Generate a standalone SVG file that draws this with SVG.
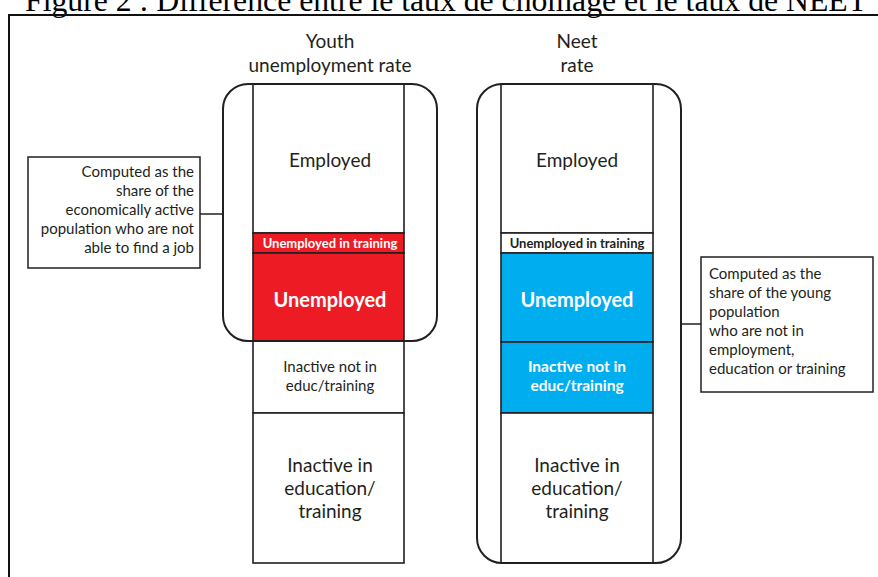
<svg xmlns="http://www.w3.org/2000/svg" width="878" height="577" viewBox="0 0 878 577">
  <style>
    .title { font-family: "Liberation Serif", "Times New Roman", serif; font-size: 32px; fill: #000; }
    .lbl { font-family: Lato, "Noto Sans", sans-serif; fill: #231f20; text-anchor: middle; }
    .head { font-size: 19px; }
    .big { font-size: 19px; }
    .bigb { font-size: 20px; font-weight: bold; }
    .mid { font-size: 15px; }
    .midb { font-size: 15.5px; font-weight: bold; }
    .small { font-size: 13px; font-weight: bold; }
    .white { fill: #ffffff; }
    .note { font-family: Lato, "Noto Sans", sans-serif; font-size: 15px; fill: #231f20; }
    .frame { fill: none; stroke: #231f20; stroke-width: 2; }
    .cell { stroke: #231f20; stroke-width: 1.6; }
    .link { fill: none; stroke: #231f20; stroke-width: 1.5; }
  </style>

  <rect width="878" height="577" fill="#ffffff"/>

  <!-- caption, partly clipped by the top edge -->
  <text class="title" x="25" y="11" textLength="842" lengthAdjust="spacingAndGlyphs">Figure 2 : Différence entre le taux de chômage et le taux de NEET</text>

  <!-- outer border -->
  <path d="M9 577 V15 H878" fill="none" stroke="#111" stroke-width="2"/>

  <!-- column headings -->
  <g id="head-youth">
    <text class="lbl head" x="330" y="48">Youth</text>
    <text class="lbl head" x="330" y="72">unemployment rate</text>
  </g>
  <g id="head-neet">
    <text class="lbl head" x="577" y="48">Neet</text>
    <text class="lbl head" x="577" y="72">rate</text>
  </g>

  <!-- youth unemployment column -->
  <g id="youth-employed">
    <rect class="cell" x="253" y="84" width="151" height="149" fill="#ffffff"/>
    <text class="lbl big" x="330" y="167">Employed</text>
  </g>
  <g id="youth-unemployed-training">
    <rect class="cell" x="253" y="233" width="151" height="20" fill="#ed1c24"/>
    <text class="lbl small white" x="330" y="247.5">Unemployed in training</text>
  </g>
  <g id="youth-unemployed">
    <rect class="cell" x="253" y="253" width="151" height="88" fill="#ed1c24"/>
    <text class="lbl bigb white" x="330" y="307">Unemployed</text>
  </g>
  <g id="youth-inactive-not">
    <rect class="cell" x="253" y="341" width="151" height="72" fill="#ffffff"/>
    <text class="lbl mid" x="330" y="372">Inactive not in</text>
    <text class="lbl mid" x="330" y="391">educ/training</text>
  </g>
  <g id="youth-inactive-edu">
    <rect class="cell" x="253" y="413" width="151" height="150" fill="#ffffff"/>
    <text class="lbl big" x="330" y="472">Inactive in</text>
    <text class="lbl big" x="330" y="495">education/</text>
    <text class="lbl big" x="330" y="518">training</text>
  </g>
  <g id="youth-bracket">
    <rect class="frame" x="223" y="84" width="214" height="257" rx="25" ry="25"/>
  </g>

  <!-- NEET column -->
  <g id="neet-employed">
    <rect class="cell" x="501" y="84" width="152" height="149" fill="#ffffff"/>
    <text class="lbl big" x="577" y="167">Employed</text>
  </g>
  <g id="neet-unemployed-training">
    <rect class="cell" x="501" y="233" width="152" height="20" fill="#ffffff"/>
    <text class="lbl small" x="577" y="247.5">Unemployed in training</text>
  </g>
  <g id="neet-unemployed">
    <rect class="cell" x="501" y="253" width="152" height="89" fill="#00aeef"/>
    <text class="lbl bigb white" x="577" y="307">Unemployed</text>
  </g>
  <g id="neet-inactive-not">
    <rect class="cell" x="501" y="342" width="152" height="71" fill="#00aeef"/>
    <text class="lbl midb white" x="577" y="372">Inactive not in</text>
    <text class="lbl midb white" x="577" y="391">educ/training</text>
  </g>
  <g id="neet-inactive-edu">
    <rect class="cell" x="501" y="413" width="152" height="150" fill="#ffffff"/>
    <text class="lbl big" x="577" y="472">Inactive in</text>
    <text class="lbl big" x="577" y="495">education/</text>
    <text class="lbl big" x="577" y="518">training</text>
  </g>
  <g id="neet-bracket">
    <rect class="frame" x="477" y="84" width="204" height="479" rx="25" ry="25"/>
  </g>

  <!-- notes -->
  <g id="note-youth">
    <rect x="28" y="157" width="172" height="111" fill="#ffffff" stroke="#231f20" stroke-width="1.5"/>
    <text class="note" text-anchor="end" x="194" y="177">Computed as the</text>
    <text class="note" text-anchor="end" x="194" y="196">share of the</text>
    <text class="note" text-anchor="end" x="194" y="215">economically active</text>
    <text class="note" text-anchor="end" x="194" y="234">population who are not</text>
    <text class="note" text-anchor="end" x="194" y="253">able to find a job</text>
  </g>
  <g id="note-neet">
    <rect x="701" y="257" width="172" height="135" fill="#ffffff" stroke="#231f20" stroke-width="1.5"/>
    <text class="note" x="709" y="279">Computed as the</text>
    <text class="note" x="709" y="298">share of the young</text>
    <text class="note" x="709" y="317">population</text>
    <text class="note" x="709" y="336">who are not in</text>
    <text class="note" x="709" y="355">employment,</text>
    <text class="note" x="709" y="374">education or training</text>
  </g>

  <!-- connectors -->
  <g id="connectors">
    <line class="link" x1="200" y1="214" x2="223" y2="214"/>
    <line class="link" x1="681" y1="324" x2="701" y2="324"/>
  </g>
</svg>
